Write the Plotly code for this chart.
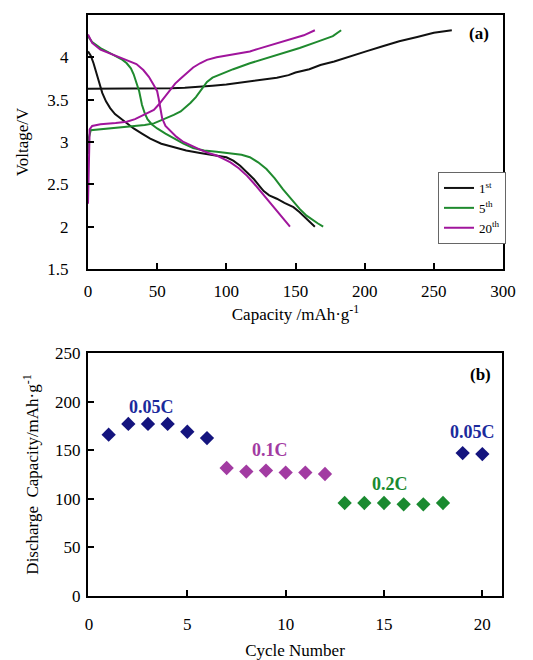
import plotly.graph_objects as go

# ---- Panel (a): charge/discharge curves ----
c1_charge_x = [0, 20, 40, 60, 70, 80, 90, 100, 110, 120, 128, 136.5, 145, 150, 160, 168, 178, 187, 201, 213, 225, 238, 250, 263]
c1_charge_y = [3.63, 3.63, 3.63, 3.635, 3.64, 3.65, 3.665, 3.68, 3.70, 3.72, 3.74, 3.76, 3.79, 3.82, 3.86, 3.91, 3.95, 4.0, 4.07, 4.13, 4.19, 4.24, 4.29, 4.32]
c1_dis_x = [0, 2, 4, 6.7, 8.5, 10.3, 13, 16, 19.5, 23.5, 28, 33, 39, 45, 53, 62, 71, 81, 90, 100, 105, 110, 115, 120, 124, 127, 131, 136.5, 142, 148.5, 153, 157, 161, 164]
c1_dis_y = [4.07, 4.02, 3.93, 3.79, 3.68, 3.58, 3.48, 3.40, 3.33, 3.28, 3.22, 3.16, 3.10, 3.04, 2.98, 2.94, 2.90, 2.87, 2.845, 2.82, 2.78, 2.72, 2.64, 2.56, 2.48, 2.42, 2.37, 2.33, 2.28, 2.23, 2.17, 2.11, 2.05, 2.0]

c5_charge_x = [0, 0.6, 2, 9, 20, 33, 41, 47.6, 52, 57, 62, 67, 70, 74, 78, 81, 84, 86, 90, 95.7, 100, 105, 117, 129, 141, 153, 165, 177, 183]
c5_charge_y = [2.86, 3.05, 3.14, 3.15, 3.165, 3.18, 3.20, 3.22, 3.25, 3.28, 3.32, 3.36, 3.40, 3.46, 3.53, 3.60, 3.66, 3.71, 3.76, 3.80, 3.83, 3.86, 3.93, 3.99, 4.05, 4.11, 4.18, 4.25, 4.32]
c5_dis_x = [0, 3, 9, 15, 21, 25, 28, 31, 33, 35, 37, 38, 39, 41, 43, 46, 50, 56, 62, 69, 76, 84, 93, 105, 111, 117, 123, 129, 135, 141, 147, 153, 158, 163, 166, 170]
c5_dis_y = [4.25, 4.18, 4.11, 4.06, 4.01, 3.97, 3.93, 3.87, 3.80, 3.70, 3.60, 3.52, 3.44, 3.34, 3.27, 3.21, 3.16, 3.10, 3.04, 2.98, 2.93, 2.90, 2.885, 2.865, 2.85, 2.82, 2.76, 2.68, 2.57, 2.44, 2.32, 2.21, 2.13, 2.07, 2.04, 2.0]

c20_charge_x = [0, 0.5, 1.2, 3, 9, 20, 28, 34, 38, 43, 47.6, 51, 55, 58, 60, 63, 67, 72, 76, 81, 86, 93, 100, 108, 117, 123, 129, 139, 148.5, 156, 164]
c20_charge_y = [2.27, 2.9, 3.15, 3.19, 3.21, 3.225, 3.24, 3.27, 3.30, 3.34, 3.38, 3.44, 3.52, 3.58, 3.63, 3.69, 3.75, 3.82, 3.88, 3.93, 3.97, 4.0, 4.02, 4.045, 4.07, 4.10, 4.13, 4.18, 4.22, 4.26, 4.32]
c20_dis_x = [0, 3, 9, 18, 28, 35, 40, 44, 47.6, 50, 51, 52.5, 53.6, 56, 60, 64, 69, 75, 81, 87, 93, 98, 103, 109, 115, 120, 124.5, 129, 134, 140, 146]
c20_dis_y = [4.27, 4.17, 4.09, 4.03, 3.97, 3.92, 3.85, 3.77, 3.67, 3.60, 3.52, 3.40, 3.28, 3.19, 3.12, 3.06, 3.00, 2.95, 2.91, 2.87, 2.84, 2.80, 2.76, 2.69, 2.60, 2.51, 2.42, 2.33, 2.23, 2.12, 2.0]

cycle_names = ["1<sup>st</sup>", "5<sup>th</sup>", "20<sup>th</sup>"]
cycle_colors = ["#111111", "#1f8a2e", "#a0159c"]

# ---- Panel (b): rate capability ----
cycles = list(range(1, 21))
capacity = [166, 177, 177, 177, 169, 162.5, 131.7, 128, 129, 127, 127, 125.5,
            95.7, 95.7, 95.7, 94.3, 94.3, 95.7, 147, 146]
point_colors = (["#14147e"] * 6 + ["#a23ba2"] * 6 + ["#1a8a30"] * 6 + ["#14147e"] * 2)
rate_labels = ["0.05C", "0.1C", "0.2C", "0.05C"]
rate_label_x = [3.17, 9.2, 15.3, 19.5]
rate_label_y = [194, 150, 115, 169]
rate_label_colors = ["#1b2a9c", "#a23ba2", "#1a8a30", "#1b2a9c"]

FONT = "Liberation Serif, Times New Roman, serif"

fig = go.Figure()

curves = [
    (c1_charge_x, c1_charge_y, c1_dis_x, c1_dis_y),
    (c5_charge_x, c5_charge_y, c5_dis_x, c5_dis_y),
    (c20_charge_x, c20_charge_y, c20_dis_x, c20_dis_y),
]
for i, (cx, cy, dx, dy) in enumerate(curves):
    fig.add_trace(go.Scatter(x=cx, y=cy, mode="lines", line=dict(color=cycle_colors[i], width=2),
                             name=cycle_names[i], legendgroup=str(i), showlegend=True, xaxis="x", yaxis="y"))
    fig.add_trace(go.Scatter(x=dx, y=dy, mode="lines", line=dict(color=cycle_colors[i], width=2),
                             name=cycle_names[i], legendgroup=str(i), showlegend=False, xaxis="x", yaxis="y"))

fig.add_trace(go.Scatter(x=cycles, y=capacity, mode="markers",
                         marker=dict(symbol="diamond", size=11, color=point_colors),
                         showlegend=False, xaxis="x2", yaxis="y2"))

axis_common = dict(showline=True, linecolor="black", linewidth=2, mirror=True,
                   ticks="inside", ticklen=6, tickwidth=1.5, tickcolor="black",
                   showgrid=False, zeroline=False, automargin=False,
                   tickfont=dict(family=FONT, size=17, color="black"),
                   title_font=dict(family=FONT, size=17, color="black"))

# page body has an 8px margin: figure occupies 525x652 of the 533x660 window
W, H = 525, 652
fig.update_layout(
    width=W, height=H,
    margin=dict(l=0, r=0, t=0, b=0),
    paper_bgcolor="white", plot_bgcolor="white",
    font=dict(family=FONT, color="black"),
    xaxis=dict(domain=[80 / W, 495 / W], anchor="y", range=[0, 300], dtick=50,
               title=dict(text="Capacity /mAh·g<sup>-1</sup>", standoff=8),
               ticklabelstandoff=6, **axis_common),
    yaxis=dict(domain=[1 - 261 / H, 1 - 7 / H], anchor="x", range=[1.5, 4.5], dtick=0.5,
               title=dict(text="Voltage/V", standoff=14),
               ticklabelstandoff=14, **axis_common),
    xaxis2=dict(domain=[80 / W, 494 / W], anchor="y2", range=[-0.05, 21], tickvals=[0, 5, 10, 15, 20],
                title=dict(text="Cycle Number", standoff=14),
                ticklabelstandoff=12, **axis_common),
    yaxis2=dict(domain=[1 - 588 / H, 1 - 345 / H], anchor="x2", range=[0, 250], dtick=50,
                title=dict(text="Discharge  Capacity/mAh·g<sup>-1</sup>", standoff=12),
                ticklabelstandoff=2, **axis_common),
    legend=dict(x=430 / W, y=1 - 164 / H, xanchor="left", yanchor="top",
                bgcolor="white", bordercolor="#666666", borderwidth=1,
                font=dict(family=FONT, size=13, color="black"),
                itemwidth=30, tracegroupgap=0),
)

fig.add_annotation(x=283, y=4.28, xref="x", yref="y", text="<b>(a)</b>", showarrow=False,
                   font=dict(family=FONT, size=17, color="black"))
fig.add_annotation(x=19.9, y=228, xref="x2", yref="y2", text="<b>(b)</b>", showarrow=False,
                   font=dict(family=FONT, size=17, color="black"))
for t, x, y, c in zip(rate_labels, rate_label_x, rate_label_y, rate_label_colors):
    fig.add_annotation(x=x, y=y, xref="x2", yref="y2", text=f"<b>{t}</b>", showarrow=False,
                       font=dict(family=FONT, size=18, color=c))

fig.write_html("out.html")
